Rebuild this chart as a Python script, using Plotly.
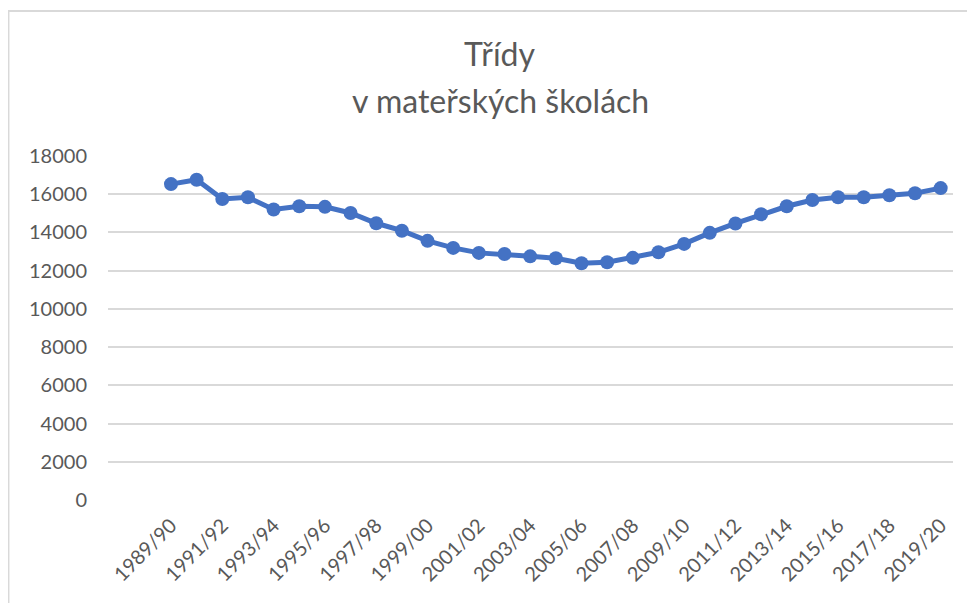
import plotly.graph_objects as go

categories = ["1989/90", "1990/91", "1991/92", "1992/93", "1993/94", "1994/95", "1995/96",
              "1996/97", "1997/98", "1998/99", "1999/00", "2000/01", "2001/02", "2002/03",
              "2003/04", "2004/05", "2005/06", "2006/07", "2007/08", "2008/09", "2009/10",
              "2010/11", "2011/12", "2012/13", "2013/14", "2014/15", "2015/16", "2016/17",
              "2017/18", "2018/19", "2019/20"]
tridy = [16530, 16760, 15750, 15840, 15200, 15370, 15340, 15020, 14480, 14090, 13560,
         13190, 12930, 12870, 12750, 12650, 12390, 12440, 12670, 12960, 13400, 13980,
         14470, 14950, 15370, 15700, 15840, 15840, 15950, 16050, 16320]
x_tick_labels = ["1989/90", "1991/92", "1993/94", "1995/96", "1997/98", "1999/00", "2001/02",
                 "2003/04", "2005/06", "2007/08", "2009/10", "2011/12", "2013/14", "2015/16",
                 "2017/18", "2019/20"]
y_ticks = [0, 2000, 4000, 6000, 8000, 10000, 12000, 14000, 16000, 18000]

title_line1 = "Třídy"
title_line2 = "v mateřských školách"

GREY = "#595959"
FONT = "Lato"

fig = go.Figure()
fig.add_trace(go.Scatter(
    x=categories, y=tridy, mode="lines+markers",
    line=dict(color="#4472C4", width=5),
    marker=dict(color="#4472C4", size=14),
    showlegend=False, hoverinfo="x+y",
))

fig.update_layout(
    width=975, height=603,
    margin=dict(l=100, r=30, t=148, b=111),
    paper_bgcolor="white", plot_bgcolor="white",
    font=dict(family=FONT, color=GREY, size=20),
    xaxis=dict(
        type="category", categoryorder="array", categoryarray=categories,
        range=[-2.455, 30.48],
        tickmode="array", tickvals=x_tick_labels, ticktext=x_tick_labels,
        tickangle=-45, showgrid=False, zeroline=False, showline=False,
        ticks="", ticklabelstandoff=9,
        tickfont=dict(family=FONT, size=20, color=GREY),
    ),
    yaxis=dict(
        range=[0, 18000], tickmode="array", tickvals=y_ticks, tickformat="d",
        showgrid=True, gridcolor="#d9d9d9", gridwidth=1.5,
        zeroline=False, showline=False, ticks="",
        ticklabelstandoff=20,
        tickfont=dict(family=FONT, size=20, color=GREY),
    ),
    annotations=[
        dict(text=title_line1, x=0.464, y=1.297, xref="paper", yref="paper",
             xanchor="center", yanchor="middle", showarrow=False,
             font=dict(family=FONT, size=32, color=GREY)),
        dict(text=title_line2, x=0.464, y=1.161, xref="paper", yref="paper",
             xanchor="center", yanchor="middle", showarrow=False,
             font=dict(family=FONT, size=32, color=GREY)),
    ],
    shapes=[
        dict(type="rect", xref="paper", yref="paper",
             x0=-0.1178, x1=1.2, y0=-0.5, y1=1.4215,
             line=dict(color="#d9d9d9", width=2), fillcolor="rgba(0,0,0,0)", layer="below"),
    ],
)

fig.write_html("out.html")
